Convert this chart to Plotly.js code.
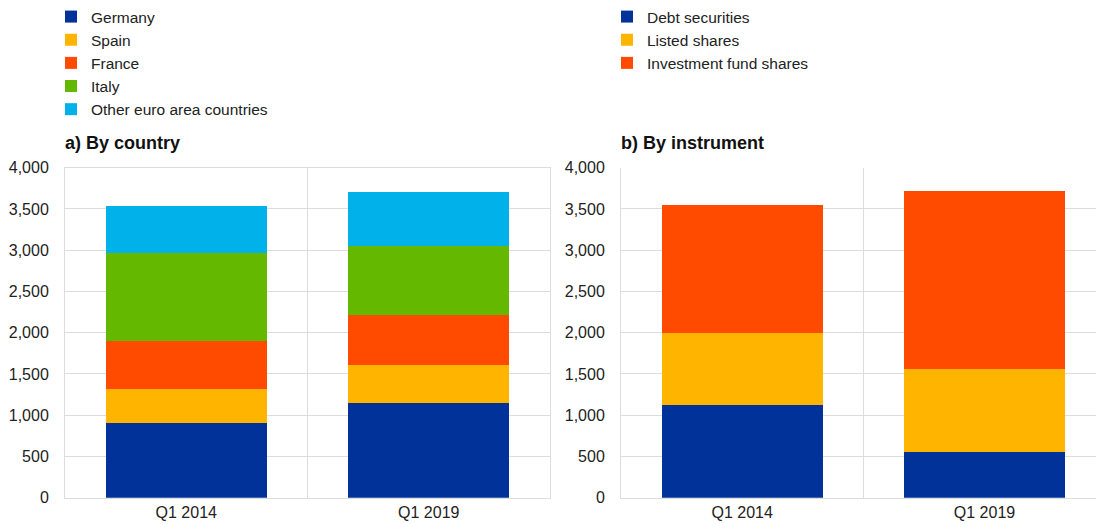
<!DOCTYPE html>
<html>
<head>
<meta charset="utf-8">
<script src="https://cdn.plot.ly/plotly-3.0.1.min.js"></script>
<style>html,body{margin:0;padding:0;background:#fff;}#chart{width:1096px;height:524px;}</style>
</head>
<body>
<div id="chart"></div>
<script>
var periods = ["Q1 2014", "Q1 2019"];

var countryNames = ["Germany", "Spain", "France", "Italy", "Other euro area countries"];
var germany = [905, 1150];
var spain = [413, 462];
var france = [578, 599];
var italy = [1066, 840];
var otherEA = [577, 658];

var instrumentNames = ["Debt securities", "Listed shares", "Investment fund shares"];
var debtSecurities = [1122, 551];
var listedShares = [876, 1009];
var investmentFundShares = [1544, 2152];

var yTicks = [0, 500, 1000, 1500, 2000, 2500, 3000, 3500, 4000];

var colors = {
  blue: "#003299", yellow: "#FFB400", orange: "#FF4B00", green: "#65B800", cyan: "#00B1EA"
};

var countrySeries = [germany, spain, france, italy, otherEA];
var countryColors = [colors.blue, colors.yellow, colors.orange, colors.green, colors.cyan];
var instrSeries = [debtSecurities, listedShares, investmentFundShares];
var instrColors = [colors.blue, colors.yellow, colors.orange];

var traces = [];
countrySeries.forEach(function (vals, i) {
  traces.push({
    type: "bar", x: periods, y: vals, name: countryNames[i],
    marker: {color: countryColors[i], line: {width: 0}},
    xaxis: "x", yaxis: "y", legend: "legend", hoverinfo: "name+y"
  });
});
instrSeries.forEach(function (vals, i) {
  traces.push({
    type: "bar", x: periods, y: vals, name: instrumentNames[i],
    marker: {color: instrColors[i], line: {width: 0}},
    xaxis: "x2", yaxis: "y2", legend: "legend2", hoverinfo: "name+y"
  });
});

var W = 1096, H = 524;
var font = {family: "Liberation Sans, Arial, sans-serif", size: 16, color: "#222"};
var grid = "#dddddd";

function xax(domain, rng, mirror) {
  return {
    domain: domain, range: rng, type: "category",
    showgrid: true, gridcolor: grid, gridwidth: 1, tickson: "boundaries",
    ticks: "", showline: true, linecolor: grid, linewidth: 1, mirror: mirror,
    tickfont: font, fixedrange: true, automargin: false, zeroline: false
  };
}
function yax(anchor, mirror) {
  return {
    domain: [(H - 497.7) / H, (H - 167.7) / H], range: [0, 4000], anchor: anchor,
    tickvals: yTicks, ticktext: yTicks.map(function (v) { return v.toLocaleString("en-US"); }),
    showgrid: true, gridcolor: grid, gridwidth: 1, zeroline: false,
    showline: true, linecolor: grid, linewidth: 1, mirror: mirror,
    ticks: "", ticklabelstandoff: 12, tickfont: font, fixedrange: true, automargin: false
  };
}

var legendFont = {family: font.family, size: 15.5, color: "#222"};

var layout = {
  width: W, height: H,
  margin: {l: 0, r: 0, t: 0, b: 0},
  paper_bgcolor: "#fff", plot_bgcolor: "#fff",
  font: font,
  barmode: "stack", bargap: 0.335,
  showlegend: true,
  xaxis: xax([65 / W, 550 / W], [-0.5, 1.5], true),
  yaxis: yax("x", true),
  xaxis2: xax([621 / W, 1], [-0.5, 1.46], false),
  yaxis2: yax("x2", false),
  legend: {
    x: 51 / W, y: 1, xanchor: "left", yanchor: "top",
    orientation: "v", traceorder: "normal", font: legendFont,
    itemwidth: 30, bgcolor: "rgba(0,0,0,0)", itemclick: false, itemdoubleclick: false
  },
  legend2: {
    x: 607 / W, y: 1, xanchor: "left", yanchor: "top",
    orientation: "v", traceorder: "normal", font: legendFont,
    itemwidth: 30, bgcolor: "rgba(0,0,0,0)", itemclick: false, itemdoubleclick: false
  },
  annotations: [
    {text: "<b>a) By country</b>", xref: "paper", yref: "paper",
     x: 63 / W, y: 1 - 143 / H, xanchor: "left", yanchor: "middle", showarrow: false,
     font: {family: font.family, size: 18, color: "#111"}},
    {text: "<b>b) By instrument</b>", xref: "paper", yref: "paper",
     x: 619 / W, y: 1 - 143 / H, xanchor: "left", yanchor: "middle", showarrow: false,
     font: {family: font.family, size: 18, color: "#111"}}
  ]
};

Plotly.newPlot("chart", traces, layout, {staticPlot: true, displayModeBar: false});
</script>
</body>
</html>
